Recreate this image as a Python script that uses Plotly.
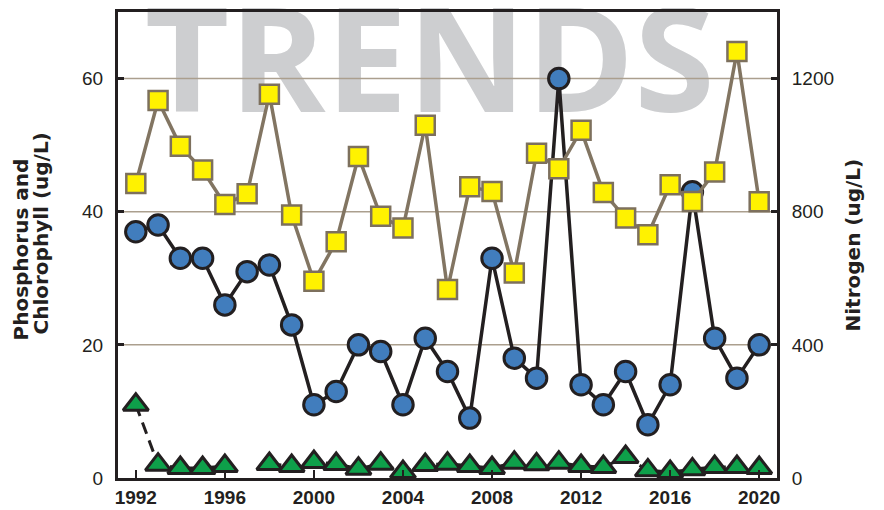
import plotly.graph_objects as go

years = list(range(1992, 2021))
phosphorus = [37, 38, 33, 33, 26, 31, 32, 23, 11, 13, 20, 19, 11, 21, 16, 9, 33, 18, 15, 60,
              14, 11, 16, 8, 14, 43, 21, 15, 20]
chlorophyll = [11, 2, 1.5, 1.5, 1.8, None, 2.1, 1.8, 2.4, 2.1, 1.4, 2.15, 0.9, 1.95, 2.15, 1.8,
               1.5, 2.3, 2.05, 2.3, 1.8, 1.65, 3.15, 1.15, 0.9, 1.3, 1.65, 1.65, 1.5]
nitrogen = [885, 1134, 997, 925, 822, 854, 1153, 790, 591, 710, 966, 786, 751, 1060, 566, 875,
            861, 616, 976, 929, 1045, 858, 781, 731, 881, 831, 919, 1281, 830]

x_ticks = [1992, 1996, 2000, 2004, 2008, 2012, 2016, 2020]
left_ticks = [0, 20, 40, 60]
right_ticks = [0, 400, 800, 1200]
x_range = [1991.2, 2020.8]
left_range = [0, 70]
right_range = [0, 1400]

INK = "#231f20"
GRID = "#ab9f8e"

fig = go.Figure()

# watermark
fig.add_trace(go.Scatter(
    x=[2005.2], y=[60.5], mode="text", text=["TRENDS"],
    textfont=dict(family="Open Sans", size=146, color="#cdced0", weight=700),
    textposition="middle center", hoverinfo="skip", showlegend=False, cliponaxis=False))

# gridlines drawn above the watermark
gx, gy = [], []
for v in left_ticks[1:]:
    gx += [x_range[0], x_range[1], None]
    gy += [v, v, None]
fig.add_trace(go.Scatter(x=gx, y=gy, mode="lines", line=dict(color=GRID, width=1.5),
                         hoverinfo="skip", showlegend=False))

fig.add_trace(go.Scatter(
    x=years, y=phosphorus, mode="lines+markers", name="Phosphorus",
    line=dict(color=INK, width=3.5),
    marker=dict(symbol="circle", size=20.5, color="#417dbd", line=dict(color=INK, width=3)),
    showlegend=False, cliponaxis=False))

fig.add_trace(go.Scatter(
    x=years, y=chlorophyll, mode="lines+markers", name="Chlorophyll",
    line=dict(color=INK, width=3, dash="12px,7px"), connectgaps=False,
    marker=dict(symbol="triangle-up", size=22, color="#0ea04a", line=dict(color=INK, width=3)),
    showlegend=False, cliponaxis=False))

fig.add_trace(go.Scatter(
    x=years, y=nitrogen, mode="lines+markers", name="Nitrogen", yaxis="y2",
    line=dict(color="#827562", width=3.5),
    marker=dict(symbol="square", size=19, color="#fff200", line=dict(color="#7d705d", width=2.5)),
    showlegend=False, cliponaxis=False))

fig.update_layout(
    width=876, height=502,
    margin=dict(l=110, r=107, t=4, b=32, autoexpand=False),
    paper_bgcolor="white", plot_bgcolor="white",
    xaxis=dict(range=x_range, tickvals=x_ticks, ticks="inside", ticklen=8, tickwidth=2,
               tickcolor=INK, showline=True, linewidth=3, linecolor=INK, mirror=True,
               showgrid=False, zeroline=False, automargin=False,
               tickfont=dict(family="Liberation Sans", size=19, color=INK, weight=700)),
    yaxis=dict(range=left_range, tickvals=left_ticks, ticks="inside", ticklen=6, tickwidth=3,
               tickcolor=INK, showline=True, linewidth=3, linecolor=INK, mirror=True,
               showgrid=False, zeroline=False, ticklabelstandoff=8, automargin=False,
               tickfont=dict(family="Liberation Sans", size=19, color=INK)),
    yaxis2=dict(range=right_range, tickvals=right_ticks, overlaying="y", side="right",
                ticks="inside", ticklen=6, tickwidth=3, tickcolor=INK, showline=True,
                linewidth=3, linecolor=INK, showgrid=False, zeroline=False, ticklabelstandoff=8,
                automargin=False,
                tickfont=dict(family="Liberation Sans", size=19, color=INK)),
    annotations=[
        dict(text="Phosphorus and", xref="paper", yref="paper", x=0, y=(470 - 335) / 466,
             xanchor="center", yanchor="bottom", xshift=-97.5, textangle=-90, showarrow=False,
             font=dict(family="DejaVu Sans", size=20, color=INK, weight=700)),
        dict(text="Chlorophyll (ug/L)", xref="paper", yref="paper", x=0, y=(470 - 329) / 466,
             xanchor="center", yanchor="bottom", xshift=-77.5, textangle=-90, showarrow=False,
             font=dict(family="DejaVu Sans", size=20, color=INK, weight=700)),
        dict(text="Nitrogen (ug/L)", xref="paper", yref="paper", x=1, y=0.5,
             xanchor="center", yanchor="middle", xshift=75.5, textangle=-90, showarrow=False,
             font=dict(family="DejaVu Sans", size=20, color=INK, weight=700)),
    ],
)

fig.write_html("out.html")
